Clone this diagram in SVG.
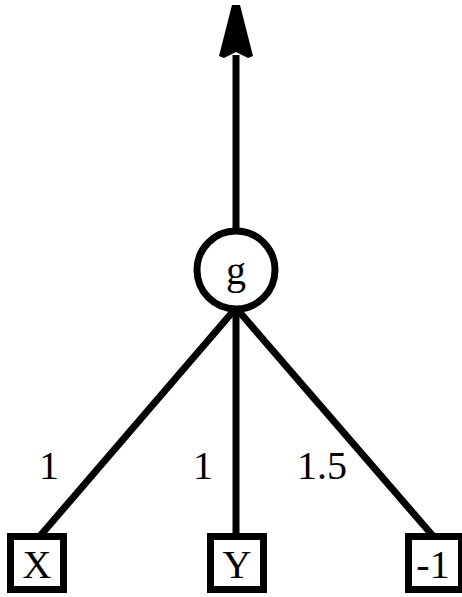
<svg xmlns="http://www.w3.org/2000/svg" width="462" height="597" viewBox="0 0 462 597">
<style>
.ln{stroke:#000;stroke-width:7;fill:none}
.nd{stroke:#000;stroke-width:7;fill:#fff}
.t{font-family:"Liberation Serif",serif;font-size:40px;fill:#000;text-anchor:middle}
</style>
<rect width="462" height="597" fill="#fff"/>
<g id="connectors">
<line class="ln" x1="236" y1="228" x2="236" y2="55"/>
<polygon points="232,5 240,5 253,56 248,58 236,52 224,58 219,56" fill="#000"/>
<line class="ln" x1="236" y1="308" x2="40" y2="536"/>
<line class="ln" x1="236" y1="308" x2="236" y2="536"/>
<line class="ln" x1="236" y1="308" x2="433" y2="536"/>
<text class="t" x="49" y="479">1</text>
<text class="t" x="203" y="479">1</text>
<text class="t" x="322" y="479">1.5</text>
</g>
<g id="g">
<circle class="nd" cx="236" cy="270" r="39"/>
<text class="t" x="236" y="284">g</text>
</g>
<g id="X">
<rect class="nd" x="10.5" y="536.5" width="53" height="53"/>
<text class="t" x="37" y="578">X</text>
</g>
<g id="Y">
<rect class="nd" x="210.5" y="536.5" width="53" height="53"/>
<text class="t" x="237" y="578">Y</text>
</g>
<g id="m1">
<rect class="nd" x="408.5" y="536.5" width="53" height="53"/>
<text class="t" x="433" y="578">-1</text>
</g>
</svg>
